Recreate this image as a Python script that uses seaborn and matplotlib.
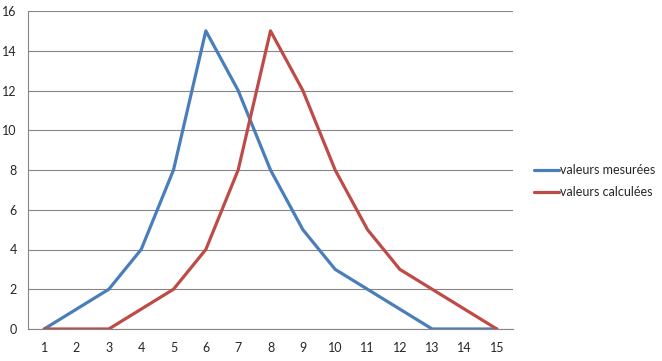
import matplotlib
matplotlib.use("Agg")
import matplotlib.pyplot as plt
import seaborn as sns
import pandas as pd
import numpy as np

# data
x = list(range(1, 16))
mesurees = [0, 1, 2, 4, 8, 15, 12, 8, 5, 3, 2, 1, 0, 0, 0]
calculees = [0, 0, 0, 1, 2, 4, 8, 15, 12, 8, 5, 3, 2, 1, 0]
series_names = ["valeurs mesurées", "valeurs calculées"]

df = pd.DataFrame({
    "x": x * 2,
    "y": mesurees + calculees,
    "serie": [series_names[0]] * 15 + [series_names[1]] * 15,
})

sns.set_style("white")
plt.rcParams["font.family"] = ["Lato", "DejaVu Sans"]

fig = plt.figure(figsize=(6.62, 3.61), dpi=100)
ax = fig.add_axes([28 / 662, 1 - 329 / 361, (513 - 28) / 662, (329 - 11) / 361])

sns.lineplot(data=df, x="x", y="y", hue="serie",
             palette=["#4A7EBB", "#BE4B48"], linewidth=2.3, ax=ax)

grid_c = "#868686"
ax.set_xlim(0.5, 15.5)
ax.set_ylim(0, 16)
ax.set_yticks(range(0, 17, 2))
ax.set_xticks(x)
ax.set_xticks(np.arange(0.5, 15.6, 1), minor=True)
ax.yaxis.grid(True, color=grid_c, linewidth=0.8)
ax.set_axisbelow(True)
ax.tick_params(axis="x", which="major", length=0, pad=9, labelsize=9)
ax.tick_params(axis="x", which="minor", length=4, color=grid_c, width=0.8)
ax.tick_params(axis="y", length=4, color=grid_c, width=0.8, pad=4, labelsize=9)
for s in ["top", "right"]:
    ax.spines[s].set_visible(False)
for s in ["left", "bottom"]:
    ax.spines[s].set_color(grid_c)
    ax.spines[s].set_linewidth(0.8)
ax.set_xlabel("")
ax.set_ylabel("")

leg = ax.legend(loc="center left", bbox_to_anchor=(1.02, 0.465), frameon=False,
                fontsize=9, handlelength=2.0, handletextpad=0.1, labelspacing=0.8)

fig.savefig("out.png", dpi=100)
